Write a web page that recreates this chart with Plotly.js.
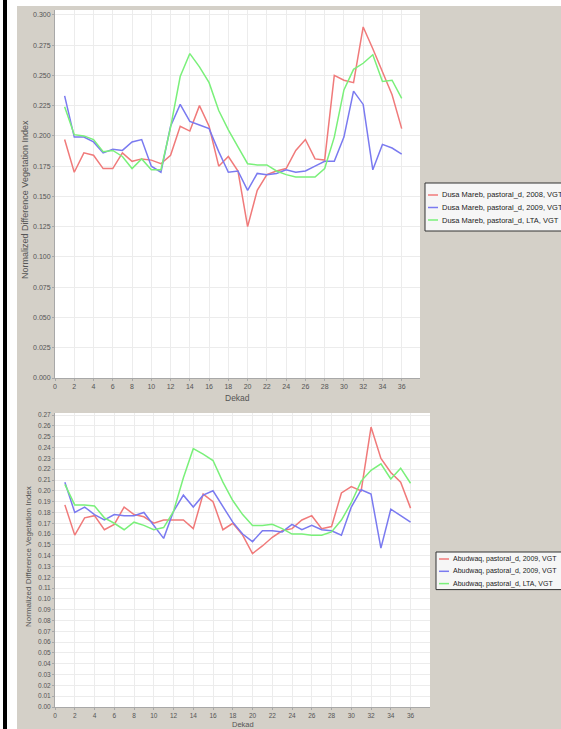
<!DOCTYPE html>
<html>
<head>
<meta charset="utf-8">
<script src="https://cdn.plot.ly/plotly-3.0.1.min.js"></script>
<style>
  html, body { margin: 0; padding: 0; background: #ffffff; width: 561px; height: 729px; overflow: hidden; }
  #bar { position: absolute; left: 3px; top: 0; width: 4px; height: 729px; background: #000; }
  #chart { position: absolute; left: 17px; top: 6px; width: 544px; height: 723px; }
</style>
</head>
<body>
<div id="bar"></div>
<div id="chart"></div>
<script>
// ---- data ----
const dekads = [1,2,3,4,5,6,7,8,9,10,11,12,13,14,15,16,17,18,19,20,21,22,23,24,25,26,27,28,29,30,31,32,33,34,35,36];

const dusaNames = ["Dusa Mareb, pastoral_d, 2008, VGT", "Dusa Mareb, pastoral_d, 2009, VGT", "Dusa Mareb, pastoral_d, LTA, VGT"];
const dusa2008 = [0.197,0.170,0.186,0.184,0.173,0.173,0.186,0.179,0.181,0.180,0.177,0.184,0.208,0.204,0.225,0.208,0.175,0.183,0.171,0.125,0.155,0.168,0.171,0.173,0.188,0.197,0.181,0.180,0.250,0.246,0.244,0.290,0.272,0.253,0.234,0.206];
const dusa2009 = [0.233,0.199,0.199,0.195,0.186,0.189,0.188,0.195,0.197,0.175,0.170,0.208,0.226,0.212,0.209,0.206,0.187,0.170,0.171,0.155,0.169,0.168,0.169,0.172,0.170,0.171,0.175,0.179,0.179,0.199,0.237,0.226,0.172,0.193,0.190,0.185];
const dusaLTA  = [0.224,0.201,0.200,0.197,0.187,0.188,0.183,0.173,0.181,0.172,0.172,0.207,0.249,0.268,0.257,0.244,0.221,0.205,0.191,0.177,0.176,0.176,0.171,0.168,0.166,0.166,0.166,0.173,0.199,0.238,0.255,0.260,0.267,0.245,0.246,0.231];

const abuNames = ["Abudwaq, pastoral_d, 2009, VGT", "Abudwaq, pastoral_d, 2009, VGT", "Abudwaq, pastoral_d, LTA, VGT"];
const abu2008 = [0.187,0.159,0.175,0.177,0.164,0.169,0.185,0.178,0.176,0.170,0.173,0.173,0.173,0.165,0.197,0.190,0.164,0.170,0.159,0.142,0.149,0.157,0.163,0.165,0.173,0.177,0.165,0.167,0.198,0.204,0.200,0.259,0.230,0.217,0.208,0.184];
const abu2009 = [0.208,0.180,0.185,0.178,0.173,0.178,0.177,0.177,0.180,0.168,0.156,0.181,0.196,0.185,0.196,0.200,0.185,0.171,0.160,0.153,0.163,0.163,0.162,0.169,0.164,0.168,0.164,0.163,0.159,0.185,0.201,0.197,0.147,0.183,0.177,0.171];
const abuLTA  = [0.206,0.187,0.187,0.186,0.175,0.170,0.164,0.171,0.168,0.164,0.166,0.181,0.212,0.239,0.234,0.228,0.208,0.191,0.178,0.168,0.168,0.169,0.165,0.160,0.160,0.159,0.159,0.162,0.173,0.189,0.209,0.219,0.225,0.211,0.221,0.207];

const yTitle = "Normalized Difference Vegetation Index";
const xTitle = "Dekad";

// ---- styling ----
const W = 544, H = 723;
const colors = ["#f07a7a", "#7a7af0", "#7af07a"];
const px = v => v / W;
const py = v => 1 - v / H;

const traces = [];
[dusa2008, dusa2009, dusaLTA].forEach((s, i) => traces.push({
  x: dekads, y: s, type: "scatter", mode: "lines", name: dusaNames[i],
  xaxis: "x", yaxis: "y", line: { color: colors[i], width: 1.5 }, showlegend: false
}));
[abu2008, abu2009, abuLTA].forEach((s, i) => traces.push({
  x: dekads, y: s, type: "scatter", mode: "lines", name: abuNames[i],
  xaxis: "x2", yaxis: "y2", line: { color: colors[i], width: 1.5 }, showlegend: false
}));

const font = "Liberation Sans, Arial, sans-serif";
const axCommon = {
  showline: true, linecolor: "#a8a8a8", linewidth: 1,
  showgrid: true, gridcolor: "#ececec", gridwidth: 1,
  zeroline: false, ticks: "outside", ticklen: 2, tickcolor: "#a8a8a8",
  tickfont: { family: font, size: 7, color: "#555" },
  fixedrange: true
};

const annotations = [
  { text: yTitle, xref: "paper", yref: "paper", x: px(8), y: py(194), textangle: -90, showarrow: false,
    xanchor: "center", yanchor: "middle", font: { family: font, size: 9, color: "#555" } },
  { text: xTitle, xref: "paper", yref: "paper", x: px(220), y: py(392), showarrow: false,
    xanchor: "center", yanchor: "middle", font: { family: font, size: 8.5, color: "#555" } },
  { text: yTitle, xref: "paper", yref: "paper", x: px(11), y: py(551), textangle: -90, showarrow: false,
    xanchor: "center", yanchor: "middle", font: { family: font, size: 8, color: "#555" } },
  { text: xTitle, xref: "paper", yref: "paper", x: px(226), y: py(718), showarrow: false,
    xanchor: "center", yanchor: "middle", font: { family: font, size: 7.5, color: "#555" } }
];

const shapes = [];
function addLegend(names, left, top, rowGap, firstRow, fsize) {
  const bottom = top + firstRow + rowGap * (names.length - 1) + (firstRow - 1);
  shapes.push({ type: "rect", xref: "paper", yref: "paper", x0: px(left), x1: px(left + 200),
    y0: py(top), y1: py(bottom), line: { color: "#333", width: 1 }, fillcolor: "#f6f6f6", layer: "below" });
  names.forEach((n, i) => {
    const yy = top + firstRow + rowGap * i;
    shapes.push({ type: "line", xref: "paper", yref: "paper", x0: px(left + 3), x1: px(left + 13),
      y0: py(yy), y1: py(yy), line: { color: colors[i], width: 1.5 } });
    annotations.push({ text: n, xref: "paper", yref: "paper", x: px(left + 15), y: py(yy), showarrow: false,
      xanchor: "left", yanchor: "middle", font: { family: font, size: fsize, color: "#222" } });
  });
}
addLegend(dusaNames, 408, 177, 12.5, 12, 7.5);
addLegend(abuNames, 419, 546, 12.3, 7, 7);

const layout = {
  width: W, height: H, margin: { l: 0, r: 0, t: 0, b: 0 },
  paper_bgcolor: "#d4d0c8", plot_bgcolor: "#ffffff", showlegend: false,
  xaxis: Object.assign({}, axCommon, { domain: [px(38), px(403)], anchor: "y", range: [0, 37.9], tick0: 0, dtick: 2 }),
  yaxis: Object.assign({}, axCommon, { domain: [py(372), py(4)], anchor: "x", range: [0, 0.304], tick0: 0, dtick: 0.025, tickformat: ".3f" }),
  xaxis2: Object.assign({}, axCommon, { domain: [px(38), px(413)], anchor: "y2", range: [0, 37.97], tick0: 0, dtick: 2,
    tickfont: { family: font, size: 6.5, color: "#555" } }),
  yaxis2: Object.assign({}, axCommon, { domain: [py(701), py(407)], anchor: "x2", range: [0, 0.272], tick0: 0, dtick: 0.01, tickformat: ".2f",
    tickfont: { family: font, size: 6.5, color: "#555" } }),
  annotations: annotations,
  shapes: shapes
};

Plotly.newPlot("chart", traces, layout, { displayModeBar: false, staticPlot: true });
</script>
</body>
</html>
